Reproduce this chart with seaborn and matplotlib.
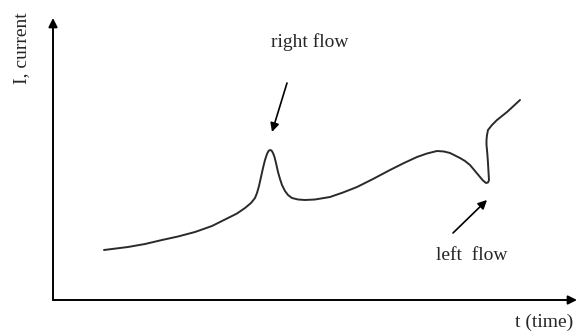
import matplotlib
matplotlib.use("Agg")
import matplotlib.pyplot as plt
import seaborn as sns

# curve (arbitrary units, origin at the axes corner)
t_vals = [51, 63, 75, 92, 109, 125, 142, 159, 175, 184,
          192, 198, 202, 204, 206, 208, 210, 212, 214, 215.5,
          217, 218.5, 220, 221.5, 223, 225, 227, 229, 232, 235,
          239, 245, 252, 262, 277, 290, 304, 320, 337, 351,
          364, 374, 384, 391, 397, 402, 407, 412, 417, 422,
          427, 430, 433, 435, 436, 435.5, 435, 434.5, 434, 433.5,
          433.5, 434, 435, 439, 444, 449, 454, 460, 467]
i_vals = [50, 51.5, 53, 56, 60, 63.5, 68, 74, 82, 86.5,
          92, 97, 102, 107, 114, 123, 132, 140, 146, 149,
          150, 149.5, 147, 143, 137, 128, 121, 115, 109, 105,
          102, 100.5, 100, 100.5, 103, 107.5, 113, 121, 130, 137,
          143, 146.5, 149, 148.5, 147, 144.5, 142, 139, 135, 129,
          123, 119.5, 117, 117.5, 120, 128, 137, 144, 150, 155,
          160, 165, 170, 175, 180, 184, 188, 193.5, 200]

x_label = "t (time)"
y_label = "I, current"
peak_label = "right flow"
dip_label = "left  flow"

sns.set_style("white")
plt.rcParams["font.family"] = ["Liberation Serif", "DejaVu Serif"]

fig = plt.figure(figsize=(5.77, 3.33), dpi=100)
ax = fig.add_axes([0, 0, 1, 1])

line = sns.lineplot(x=t_vals, y=i_vals, sort=False, estimator=None,
                    color="#2a2a2a", linewidth=1.4, ax=ax)
for ln in ax.lines:
    ln.set_solid_joinstyle("round")
    ln.set_solid_capstyle("round")

ax.set_xlim(-53, 524)
ax.set_ylim(-33, 300)
ax.set_axis_off()

# axes with arrow heads
ax_arrow = dict(arrowstyle="-|>", color="black", lw=1.4, mutation_scale=13,
                shrinkA=0, shrinkB=0)
ax.annotate("", xy=(524, 0), xytext=(0, 0), arrowprops=ax_arrow)
ax.annotate("", xy=(0, 282), xytext=(0, 0), arrowprops=ax_arrow)

fs = 14
ax.text(491, -22, x_label, fontsize=fs, ha="center", va="center")
ax.text(-31, 252, y_label, fontsize=fs, ha="center", va="center", rotation=90)

note_arrow = dict(arrowstyle="-|>", color="black", lw=1.2, mutation_scale=13,
                  shrinkA=0, shrinkB=0)
ax.text(257, 258, peak_label, fontsize=fs, ha="center", va="center")
ax.annotate("", xy=(219, 168), xytext=(234, 217), arrowprops=note_arrow)
ax.text(419, 45, dip_label, fontsize=fs, ha="center", va="center")
ax.annotate("", xy=(434, 100), xytext=(400, 67), arrowprops=note_arrow)

fig.savefig("out.png", dpi=100)
